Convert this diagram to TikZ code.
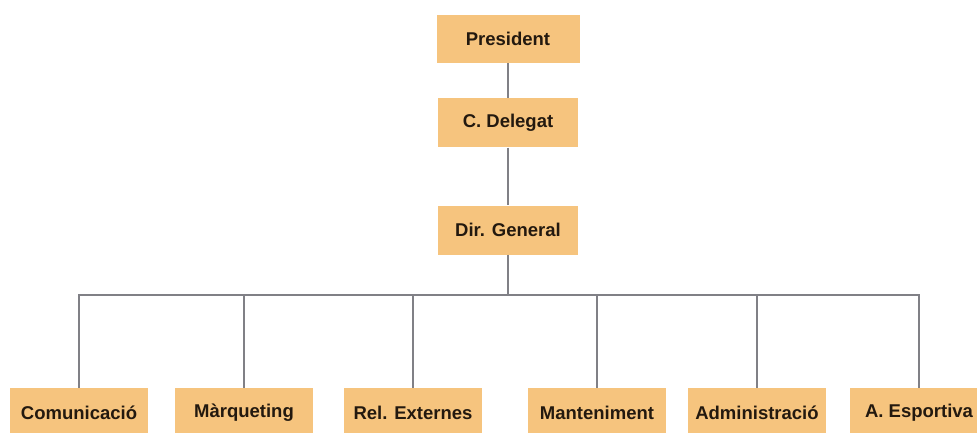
\documentclass[tikz,border=0pt]{standalone}
\usepackage{fontspec}
\setmainfont{Liberation Sans}
\definecolor{boxfill}{RGB}{246,196,126}
\definecolor{linkgray}{RGB}{128,128,134}
\definecolor{labeltext}{RGB}{35,25,15}
\begin{document}
\begin{tikzpicture}[x=1pt,y=-1pt,
  unit/.style={fill=boxfill,draw=none,minimum width=140pt,minimum height=49pt,
    inner sep=0pt,text=labeltext,font=\fontsize{18.5}{21}\selectfont\bfseries},
  dept/.style={unit,minimum width=138pt,minimum height=50pt},
  link/.style={draw=linkgray,line width=1.5pt}]
  \useasboundingbox (0,0) rectangle (977,433);
  \clip (0,0) rectangle (977,433);
  % top of the chart
  \node[unit,minimum width=143pt,minimum height=48pt] (pres) at (508,39) {President};
  \node[unit] (deleg) at (508,123) {C. Delegat};
  \node[unit] (dir) at (508,230) {Dir. General};
  \draw[link] (pres) -- (deleg);
  \draw[link] (deleg) -- (dir);
  % departments
  \node[dept] (com) at (79,413) {Comunicació};
  \node[dept] (mar) at (244,413) {Màrqueting};
  \node[dept] (rel) at (413,413) {Rel. Externes};
  \node[dept] (man) at (597,413) {Manteniment};
  \node[dept] (adm) at (757,413) {Administració};
  \node[dept] (esp) at (919,413) {A. Esportiva};
  % branching bar
  \coordinate (bar) at (dir.south |- 0,295);
  \draw[link] (dir) -- (bar);
  \foreach \d in {com,mar,rel,man,adm,esp}
    \draw[link] (bar) -| (\d.north);
\end{tikzpicture}
\end{document}
